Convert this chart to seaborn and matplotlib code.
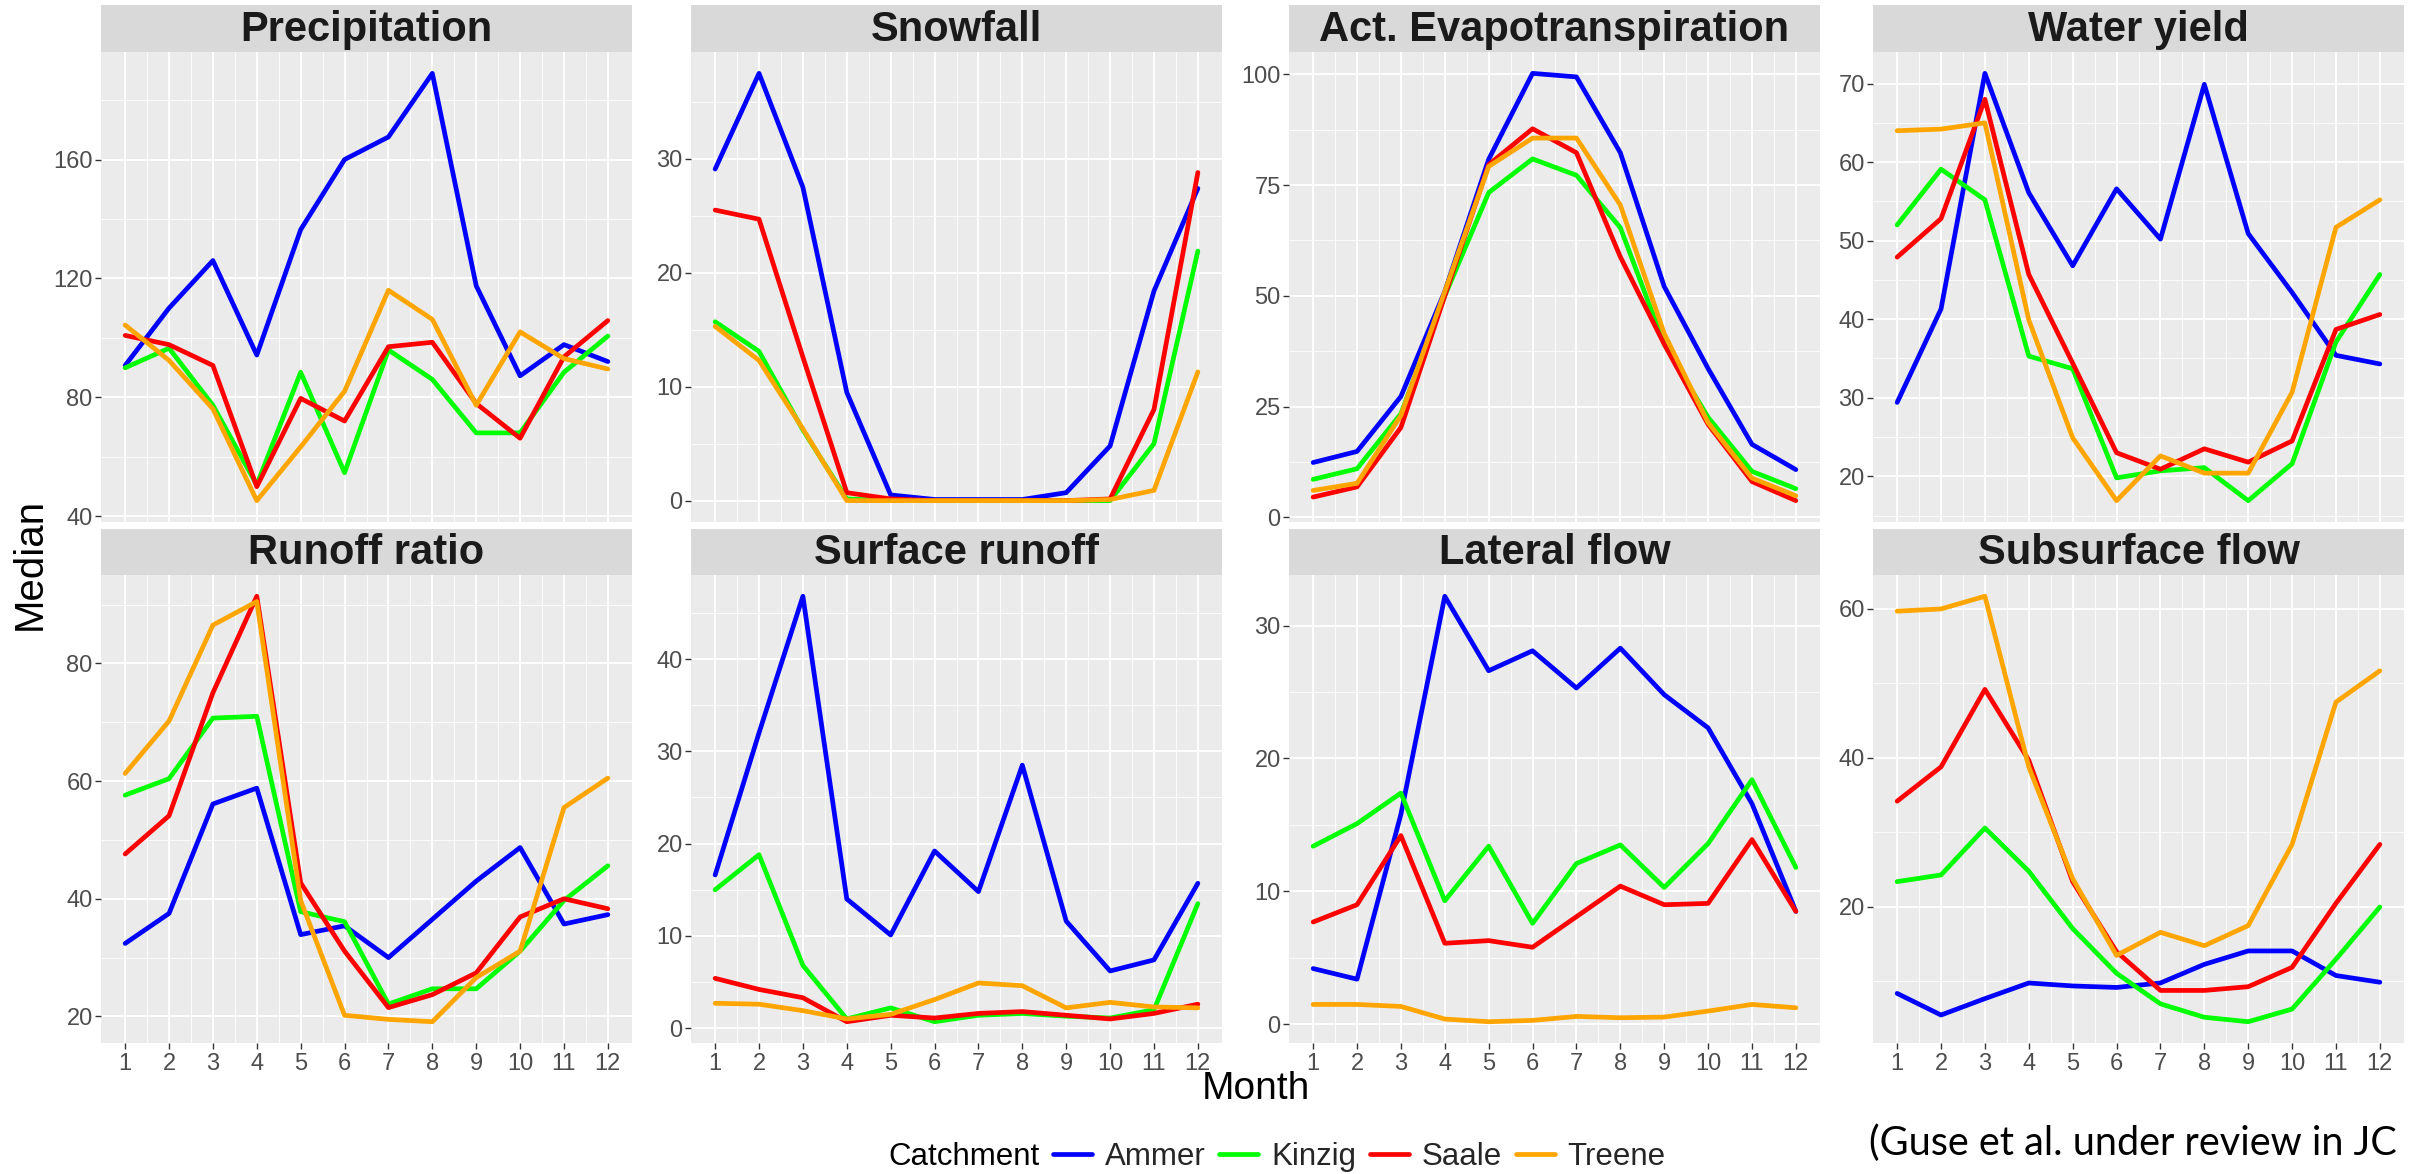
import matplotlib
matplotlib.use("Agg")
import matplotlib.pyplot as plt
import seaborn as sns
import pandas as pd
from matplotlib.lines import Line2D
from matplotlib.ticker import FixedLocator, AutoMinorLocator

# ---------------- data ----------------
months = [1, 2, 3, 4, 5, 6, 7, 8, 9, 10, 11, 12]
catchments = ["Ammer", "Kinzig", "Saale", "Treene"]
colors = ["#0000FF", "#00FF00", "#FF0000", "#FFA500"]

precip_ammer = [90.7, 110, 126, 94.2, 136.4, 160, 167.6, 189, 117.5, 87.2, 97.7, 92]
precip_kinzig = [89.9, 96.5, 77.3, 50.5, 88.4, 54.6, 95.9, 86, 68, 68, 88.4, 100.6]
precip_saale = [100.8, 97.7, 90.7, 49.9, 79.6, 72, 97, 98.5, 77.9, 66.2, 93.6, 105.8]
precip_treene = [104.3, 92.4, 76.1, 45.2, 63.3, 82, 116, 106.2, 77.3, 102, 93, 89.5]

snow_ammer = [29.1, 37.5, 27.5, 9.5, 0.5, 0.1, 0.1, 0.1, 0.7, 4.8, 18.4, 27.4]
snow_kinzig = [15.7, 13.1, 6.2, 0.15, 0, 0, 0, 0, 0, 0, 5.0, 21.9]
snow_saale = [25.5, 24.7, 12.6, 0.7, 0.15, 0, 0, 0, 0, 0.15, 8.0, 28.8]
snow_treene = [15.3, 12.3, 6.3, 0, 0, 0, 0, 0, 0, 0.1, 0.9, 11.3]

et_ammer = [12.4, 14.9, 27.3, 51, 80.8, 100.2, 99.4, 82.3, 52.1, 33.6, 16.5, 10.8]
et_kinzig = [8.6, 11.0, 23.4, 50, 73.3, 80.9, 77.2, 65.4, 39.1, 22.6, 10.4, 6.5]
et_saale = [4.6, 6.9, 20.3, 50, 79.6, 87.7, 82.3, 58.8, 39.1, 21.0, 8.1, 3.8]
et_treene = [6.1, 7.7, 23.0, 51, 79.2, 85.6, 85.6, 70.5, 41.5, 21.4, 8.9, 4.9]

wy_ammer = [29.4, 41.3, 71.3, 56.1, 46.8, 56.6, 50.2, 69.9, 50.9, 43.4, 35.4, 34.3]
wy_kinzig = [52.0, 59.1, 55.2, 35.3, 33.7, 19.8, 20.7, 21.1, 16.9, 21.6, 37.1, 45.7]
wy_saale = [47.9, 52.8, 68.0, 45.7, 34.4, 23.0, 20.9, 23.5, 21.8, 24.5, 38.7, 40.6]
wy_treene = [64.0, 64.2, 65.0, 39.9, 24.9, 16.9, 22.6, 20.4, 20.4, 30.7, 51.7, 55.2]

rr_ammer = [32.4, 37.5, 56.1, 58.8, 33.9, 35.4, 30.0, 36.5, 43.0, 48.7, 35.7, 37.3]
rr_kinzig = [57.6, 60.4, 70.7, 71.0, 37.8, 36.1, 22.1, 24.7, 24.7, 31.1, 39.7, 45.6]
rr_saale = [47.6, 54.1, 75.0, 91.4, 42.7, 31.1, 21.5, 23.7, 27.4, 36.9, 40.0, 38.3]
rr_treene = [61.3, 70.2, 86.5, 90.5, 39.7, 20.2, 19.5, 19.1, 26.6, 31.1, 55.5, 60.5]

sr_ammer = [16.6, 32.0, 46.8, 14.0, 10.1, 19.2, 14.8, 28.5, 11.6, 6.2, 7.4, 15.7]
sr_kinzig = [15.0, 18.8, 6.8, 1.0, 2.2, 0.7, 1.4, 1.6, 1.3, 1.1, 2.0, 13.5]
sr_saale = [5.4, 4.2, 3.3, 0.7, 1.4, 1.1, 1.6, 1.8, 1.4, 1.0, 1.6, 2.6]
sr_treene = [2.7, 2.6, 1.9, 1.0, 1.5, 3.1, 4.9, 4.6, 2.2, 2.8, 2.3, 2.2]

lf_ammer = [4.2, 3.4, 15.8, 32.2, 26.6, 28.1, 25.3, 28.3, 24.8, 22.3, 16.6, 8.5]
lf_kinzig = [13.4, 15.1, 17.4, 9.3, 13.4, 7.6, 12.1, 13.5, 10.3, 13.6, 18.4, 11.8]
lf_saale = [7.7, 9.0, 14.2, 6.1, 6.3, 5.8, 8.1, 10.4, 9.0, 9.1, 13.9, 8.5]
lf_treene = [1.5, 1.5, 1.35, 0.4, 0.2, 0.3, 0.6, 0.5, 0.55, 1.0, 1.5, 1.25]

ssf_ammer = [8.4, 5.5, 7.7, 9.8, 9.4, 9.2, 9.8, 12.3, 14.1, 14.1, 10.8, 9.9]
ssf_kinzig = [23.4, 24.3, 30.6, 24.8, 17.1, 11.1, 7.0, 5.2, 4.6, 6.3, 13.0, 20.0]
ssf_saale = [34.2, 38.8, 49.2, 39.7, 23.4, 14.0, 8.8, 8.8, 9.3, 11.9, 20.5, 28.4]
ssf_treene = [59.7, 60.0, 61.7, 38.8, 23.8, 13.5, 16.6, 14.8, 17.5, 28.4, 47.5, 51.7]

panel_titles = ["Precipitation", "Snowfall", "Act. Evapotranspiration", "Water yield",
                "Runoff ratio", "Surface runoff", "Lateral flow", "Subsurface flow"]
panel_series = [
    [precip_ammer, precip_kinzig, precip_saale, precip_treene],
    [snow_ammer, snow_kinzig, snow_saale, snow_treene],
    [et_ammer, et_kinzig, et_saale, et_treene],
    [wy_ammer, wy_kinzig, wy_saale, wy_treene],
    [rr_ammer, rr_kinzig, rr_saale, rr_treene],
    [sr_ammer, sr_kinzig, sr_saale, sr_treene],
    [lf_ammer, lf_kinzig, lf_saale, lf_treene],
    [ssf_ammer, ssf_kinzig, ssf_saale, ssf_treene],
]
panel_yticks = [
    [40, 80, 120, 160],
    [0, 10, 20, 30],
    [0, 25, 50, 75, 100],
    [20, 30, 40, 50, 60, 70],
    [20, 40, 60, 80],
    [0, 10, 20, 30, 40],
    [0, 10, 20, 30],
    [20, 40, 60],
]

rows = []
for title, series in zip(panel_titles, panel_series):
    for cat, vals in zip(catchments, series):
        for m, v in zip(months, vals):
            rows.append({"Panel": title, "Catchment": cat, "Month": m, "Median": v})
df = pd.DataFrame(rows)

# ---------------- style ----------------
sns.set_style("darkgrid")
plt.rcParams["font.family"] = ["Liberation Sans", "DejaVu Sans"]

W, H = 2422, 1174
DPI = 100
fig = plt.figure(figsize=(W / DPI, H / DPI), dpi=DPI)
fig.patch.set_facecolor("white")

col_left = [101, 691, 1289, 1873]
panel_w = 531
strip_top = [5, 529]
strip_bot = [52, 575]
row_bot = [522, 1043]

palette = dict(zip(catchments, colors))

def fx(px):
    return px / W

def fy(py):
    return 1 - py / H

for i, title in enumerate(panel_titles):
    r, c = divmod(i, 4)
    left = col_left[c]
    ax = fig.add_axes([fx(left), fy(row_bot[r]), panel_w / W, (row_bot[r] - strip_bot[r]) / H])
    sub = df[df["Panel"] == title]
    sns.lineplot(data=sub, x="Month", y="Median", hue="Catchment", hue_order=catchments,
                 palette=palette, linewidth=3.4, legend=False, errorbar=None, ax=ax)
    ax.set_facecolor("#EBEBEB")
    for s in ax.spines.values():
        s.set_visible(False)
    ax.set_xlim(1 - 0.55, 12 + 0.55)
    ax.margins(y=0.05)
    ax.autoscale(axis="y")
    ax.xaxis.set_major_locator(FixedLocator(months))
    ax.xaxis.set_minor_locator(FixedLocator([m + 0.5 for m in months[:-1]]))
    ax.yaxis.set_major_locator(FixedLocator(panel_yticks[i]))
    ax.yaxis.set_minor_locator(AutoMinorLocator(2))
    ax.grid(which="major", color="white", linewidth=1.3)
    ax.grid(which="minor", color="white", linewidth=0.6)
    ax.set_axisbelow(True)
    ax.tick_params(axis="y", which="major", length=4, width=1.0, color="#333333",
                   labelsize=17, labelcolor="#4D4D4D", pad=2, left=True)
    ax.tick_params(which="minor", length=0)
    if r == 1:
        ax.tick_params(axis="x", which="major", length=4, width=1.0, color="#333333",
                       labelsize=17, labelcolor="#4D4D4D", pad=3, bottom=True)
    else:
        ax.tick_params(axis="x", which="major", length=0, labelbottom=False)
    ax.set_xlabel("")
    ax.set_ylabel("")

    # facet strip
    sax = fig.add_axes([fx(left), fy(strip_bot[r]), panel_w / W, (strip_bot[r] - strip_top[r]) / H])
    sax.set_facecolor("#D9D9D9")
    sax.set_xticks([])
    sax.set_yticks([])
    sax.grid(False)
    for s in sax.spines.values():
        s.set_visible(False)
    sax.text(0.5, 0.47, title, ha="center", va="center", fontsize=30,
             fontweight="bold", color="#1A1A1A", transform=sax.transAxes)

# axis titles
fig.text(fx(1256), fy(1089), "Month", ha="center", va="center", fontsize=28, color="black")
fig.text(fx(30), fy(564), "Median", ha="center", va="center", rotation=90,
         fontsize=29, color="black")

# legend
fig.text(fx(888), fy(1157), "Catchment", ha="left", va="center", fontsize=22.5, color="black")
handles = [Line2D([0], [0], color=col, linewidth=3.4) for col in colors]
fig.legend(handles, catchments, loc="center left", bbox_to_anchor=(fx(1053), fy(1157)),
           ncol=4, frameon=False, fontsize=22.5, handlelength=1.25, handletextpad=0.4,
           columnspacing=0.45, borderpad=0, borderaxespad=0)

# citation (runs to the right edge, as in the original)
fig.text(fx(1869), fy(1143), "(Guse et al. under review in JC", ha="left", va="center",
         fontsize=28.5, family=["Lato", "DejaVu Sans"], color="black")

fig.savefig("out.png", dpi=DPI, facecolor="white")
